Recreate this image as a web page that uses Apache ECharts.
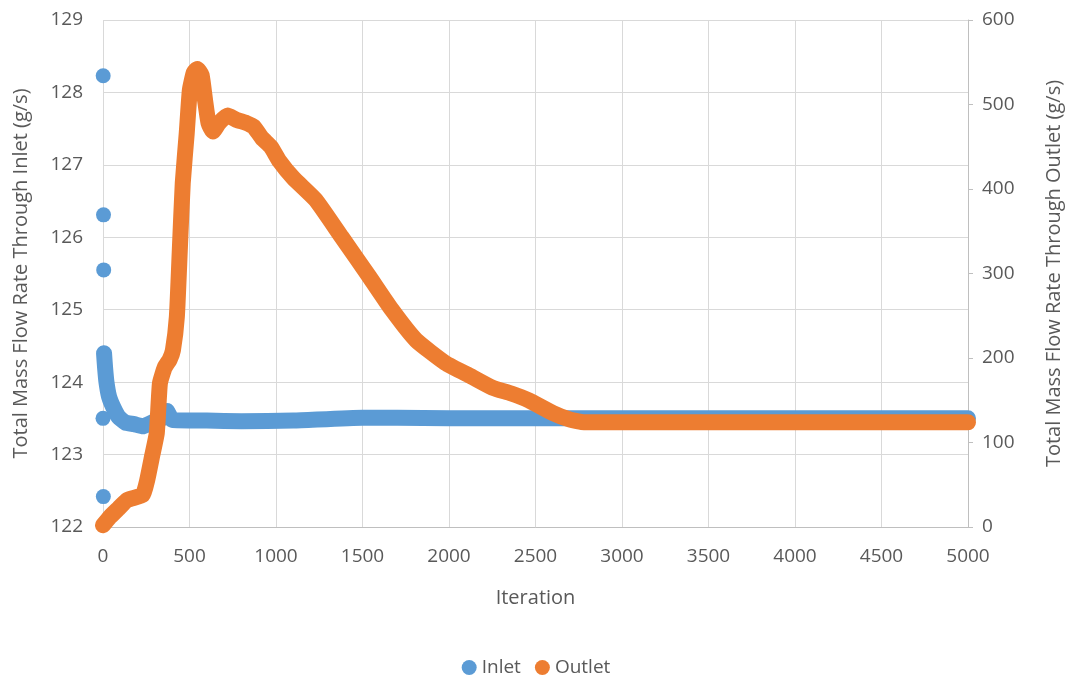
<!DOCTYPE html>
<html>
<head>
<meta charset="utf-8">
<script src="https://cdn.jsdelivr.net/npm/echarts@6/dist/echarts.min.js"></script>
<style>
html,body{margin:0;padding:0;background:#fff;}
#chart{width:1072px;height:679px;}
</style>
</head>
<body>
<div id="chart"></div>
<script>
// X tick labels and axis ranges
const xTicks = [0, 500, 1000, 1500, 2000, 2500, 3000, 3500, 4000, 4500, 5000];
const leftTicks = [122, 123, 124, 125, 126, 127, 128, 129];
const rightTicks = [0, 100, 200, 300, 400, 500, 600];

// Inlet: isolated early iterations (scatter dots)
const inletEarly = [
  [0, 123.5], [1, 128.23], [2, 122.42], [3, 126.31], [4, 125.55]
];
// Inlet: dense continuous run (iteration, g/s)
const inletRun = [
  [6, 124.4], [12, 124.2], [20, 124.0], [35, 123.8], [60, 123.65], [90, 123.52],
  [130, 123.44], [180, 123.42], [230, 123.39], [290, 123.45], [340, 123.5],
  [370, 123.6], [400, 123.48], [600, 123.47], [800, 123.46], [1100, 123.47],
  [1500, 123.51], [1700, 123.51], [2000, 123.5], [5000, 123.5]
];
// Outlet (iteration, g/s)
const outletRun = [
  [0, 2], [40, 12], [90, 22], [140, 32], [230, 38], [255, 55], [285, 85],
  [311, 111], [329, 170], [357, 189], [385, 198], [404, 209], [427, 249],
  [444, 328], [461, 407], [484, 466], [502, 517], [525, 538], [545, 542],
  [570, 535], [590, 505], [610, 478], [635, 468], [670, 478], [720, 487],
  [770, 482], [830, 478], [870, 474], [920, 460], [970, 450], [1020, 433],
  [1100, 413], [1230, 387], [1380, 343], [1540, 296], [1670, 257], [1810, 221],
  [1980, 194], [2130, 178], [2250, 165], [2360, 158], [2460, 150], [2600, 135],
  [2700, 127], [2780, 124], [5000, 124]
];

const BLUE = '#5B9BD5', ORANGE = '#ED7D31', TXT = '#595959', GRID = '#D9D9D9';
const FONT = '"Open Sans", "Noto Sans", sans-serif';

const chart = echarts.init(document.getElementById('chart'), null, {renderer: 'canvas'});
chart.setOption({
  animation: false,
  textStyle: {fontFamily: FONT, color: TXT},
  grid: {left: 103, right: 102, top: 20, bottom: 152},
  legend: {
    top: 653, left: 'center', itemWidth: 15, itemHeight: 15, itemGap: 14,
    textStyle: {fontFamily: FONT, fontSize: 19, color: TXT},
    data: [{name: 'Inlet', icon: 'circle'}, {name: 'Outlet', icon: 'circle'}]
  },
  xAxis: {
    type: 'value', min: xTicks[0], max: xTicks[xTicks.length - 1], interval: 500,
    name: 'Iteration', nameLocation: 'middle', nameGap: 61,
    nameTextStyle: {fontFamily: FONT, fontSize: 20, color: TXT},
    axisLine: {show: true, lineStyle: {color: '#BFBFBF', width: 1}},
    axisTick: {show: false},
    axisLabel: {fontFamily: FONT, fontSize: 19, color: TXT, margin: 20,
      formatter: v => String(v)},
    splitLine: {show: true, lineStyle: {color: GRID, width: 1}}
  },
  yAxis: [
    {
      type: 'value', min: leftTicks[0], max: leftTicks[leftTicks.length - 1], interval: 1,
      position: 'left',
      name: 'Total Mass Flow Rate Through Inlet (g/s)', nameLocation: 'middle', nameGap: 72,
      nameTextStyle: {fontFamily: FONT, fontSize: 20, color: TXT},
      axisLine: {show: false}, axisTick: {show: false},
      axisLabel: {fontFamily: FONT, fontSize: 19, color: TXT, margin: 20},
      splitLine: {show: true, lineStyle: {color: GRID, width: 1}}
    },
    {
      type: 'value', min: rightTicks[0], max: rightTicks[rightTicks.length - 1], interval: 100,
      position: 'right',
      name: 'Total Mass Flow Rate Through Outlet (g/s)', nameLocation: 'middle', nameGap: 76,
      nameRotate: 90,
      nameTextStyle: {fontFamily: FONT, fontSize: 20, color: TXT},
      axisLine: {show: true, lineStyle: {color: '#BFBFBF', width: 1}},
      axisTick: {show: true, inside: false, length: 5, lineStyle: {color: '#BFBFBF'}},
      axisLabel: {fontFamily: FONT, fontSize: 19, color: TXT, margin: 14},
      splitLine: {show: false}
    }
  ],
  series: [
    {
      name: 'Inlet', type: 'scatter', yAxisIndex: 0, data: inletEarly,
      symbolSize: 15, itemStyle: {color: BLUE, opacity: 1}, clip: false, z: 3
    },
    {
      name: 'Inlet', type: 'line', yAxisIndex: 0, data: inletRun,
      showSymbol: false, smooth: 0.15, clip: false, z: 3,
      itemStyle: {color: BLUE},
      lineStyle: {color: BLUE, width: 16, cap: 'round', join: 'round'}
    },
    {
      name: 'Outlet', type: 'line', yAxisIndex: 1, data: outletRun,
      showSymbol: false, smooth: 0.15, clip: false, z: 4,
      itemStyle: {color: ORANGE},
      lineStyle: {color: ORANGE, width: 16, cap: 'round', join: 'round'}
    }
  ]
});
</script>
</body>
</html>
